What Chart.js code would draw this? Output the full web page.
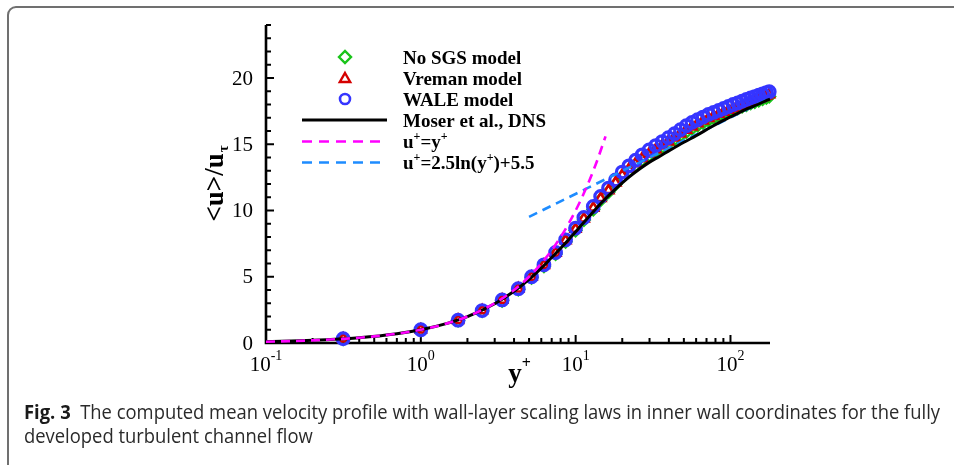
<!DOCTYPE html>
<html>
<head>
<meta charset="utf-8">
<script src="https://cdn.jsdelivr.net/npm/chart.js"></script>
<style>
  html, body { margin: 0; padding: 0; background: #fff; }
  body { width: 954px; height: 465px; overflow: hidden; position: relative; }
  #frame { position: absolute; left: 7px; top: 6px; width: 2000px; height: 2000px;
           border: 2px solid #707070; border-radius: 9px; box-sizing: border-box; }
  #plot { position: absolute; left: 0; top: 0; }
  .ln { position: absolute; left: 24px; font: 20px/24px "Open Sans", sans-serif;
        color: #2a2a2a; white-space: nowrap; transform-origin: 0 0; }
  .ln b { color: #1a1a1a; }
  #l1 { top: 400px; }
  #l2 { top: 424px; }
</style>
</head>
<body>
<div id="frame"></div>
<canvas id="plot" width="954" height="465"></canvas>
<div class="ln" id="l1"><b>Fig. 3</b>&nbsp; The computed mean velocity profile with wall-layer scaling laws in inner wall coordinates for the fully</div>
<div class="ln" id="l2">developed turbulent channel flow</div>
<script>
// LES grid points (y+) shared by the three SGS cases
const LES_Y = [0.315, 1.0, 1.74, 2.49, 3.35, 4.26, 5.19, 6.24, 7.42, 8.61, 9.98, 11.3, 13.0, 14.5, 16.3,
  18.1, 20.0, 22.1, 24.4, 26.9, 29.8, 32.9, 36.2, 39.7, 43.5, 47.5, 51.8, 56.4, 61.3, 66.5, 72.0,
  77.8, 83.9, 90.3, 97.0, 104, 111.3, 118.9, 126.8, 135, 143.5, 152.3, 161.3, 170.5, 178];
const NOSGS_U = [0.31, 0.99, 1.7, 2.42, 3.2, 4.04, 4.92, 5.8, 6.72, 7.65, 8.5, 9.28, 10.08, 10.8, 11.4,
  11.98, 12.55, 13.0, 13.42, 13.8, 14.15, 14.47, 14.77, 15.07, 15.37, 15.66, 15.93, 16.18, 16.42, 16.62, 16.82,
  16.98, 17.14, 17.3, 17.45, 17.59, 17.72, 17.85, 17.97, 18.09, 18.2, 18.31, 18.42, 18.52, 18.6];
const VREMAN_U = [0.32, 1.0, 1.72, 2.45, 3.25, 4.1, 4.98, 5.88, 6.8, 7.74, 8.6, 9.38, 10.2, 10.92, 11.52,
  12.1, 12.68, 13.13, 13.55, 13.93, 14.28, 14.6, 14.9, 15.2, 15.5, 15.8, 16.08, 16.33, 16.57, 16.77, 16.97,
  17.12, 17.28, 17.43, 17.58, 17.72, 17.85, 17.98, 18.1, 18.22, 18.33, 18.44, 18.55, 18.66, 18.75];
const WALE_U = [0.32, 1.0, 1.72, 2.45, 3.25, 4.1, 5.0, 5.9, 6.83, 7.79, 8.67, 9.47, 10.3, 11.06, 11.69,
  12.3, 12.9, 13.37, 13.8, 14.2, 14.57, 14.9, 15.2, 15.5, 15.8, 16.1, 16.4, 16.65, 16.85, 17.05, 17.25,
  17.4, 17.55, 17.7, 17.85, 18.0, 18.12, 18.25, 18.38, 18.5, 18.6, 18.7, 18.8, 18.9, 18.97];

// Moser et al. DNS
const DNS_Y = [0.1, 0.2, 0.4, 0.7, 1, 1.5, 2, 3, 4, 5, 6, 7, 8, 10, 12, 15, 18, 22, 26, 30, 35, 40, 50,
  60, 75, 90, 110, 130, 150, 170, 180];
const DNS_U = [0.1, 0.2, 0.4, 0.7, 1.0, 1.5, 1.99, 2.96, 3.9, 4.8, 5.65, 6.45, 7.15, 8.4, 9.45, 10.7, 11.6,
  12.5, 13.15, 13.65, 14.1, 14.5, 15.15, 15.65, 16.3, 16.8, 17.3, 17.7, 18.0, 18.3, 18.4];

// viscous sublayer u+=y+
const LIN_Y = [0.1, 0.15, 0.2, 0.3, 0.5, 0.7, 1, 1.5, 2, 3, 4, 5, 6, 7, 8, 9, 10, 11, 12, 13, 14, 15.6];
const LIN_U = [0.1, 0.15, 0.2, 0.3, 0.5, 0.7, 1, 1.5, 2, 3, 4, 5, 6, 7, 8, 9, 10, 11, 12, 13, 14, 15.6];

// log law u+=2.5ln(y+)+5.5 (straight on log axis)
const LOG_Y = [5, 180];
const LOG_U = [9.52, 18.48];

// axes
const X_MIN = 0.1, X_MAX = 180;
const Y_MIN = 0, Y_MAX = 24;
const X_DECADES = [-1, 0, 1, 2];
const Y_LABELS = [0, 5, 10, 15, 20];

const SERIF = '"Liberation Serif", "Times New Roman", serif';
const GREEN = '#19c419', RED = '#d50000', BLUE = '#3535ff', MAGENTA = '#ff00ff', SKY = '#1e8cff';

const pts = (xs, ys) => xs.map((v, i) => ({ x: v, y: ys[i] }));

// draws text pieces, some of them raised as superscripts
function drawRich(ctx, x, y, parts, size, bold) {
  const w = bold ? 'bold ' : '';
  let cx = x;
  parts.forEach(p => {
    if (p.sup) {
      ctx.font = w + Math.round(size * 0.62) + 'px ' + SERIF;
      ctx.fillText(p.t, cx, y - size * 0.42);
    } else {
      ctx.font = w + size + 'px ' + SERIF;
      ctx.fillText(p.t, cx, y);
    }
    cx += ctx.measureText(p.t).width;
  });
  return cx - x;
}

function marker(ctx, style, x, y, r, color, lw) {
  ctx.save();
  ctx.strokeStyle = color;
  ctx.lineWidth = lw;
  ctx.beginPath();
  if (style === 'rectRot') {
    ctx.moveTo(x - r, y); ctx.lineTo(x, y - r); ctx.lineTo(x + r, y); ctx.lineTo(x, y + r);
    ctx.closePath();
  } else if (style === 'triangle') {
    for (let k = 0; k < 3; k++) {
      const a = k * 2 * Math.PI / 3;
      const px = x + Math.sin(a) * r, py = y - Math.cos(a) * r;
      k ? ctx.lineTo(px, py) : ctx.moveTo(px, py);
    }
    ctx.closePath();
  } else {
    ctx.arc(x, y, r, 0, Math.PI * 2);
  }
  ctx.stroke();
  ctx.restore();
}

const axesPlugin = {
  id: 'axes',
  beforeDatasetsDraw(chart) {
    const { ctx, chartArea: a, scales: { x, y } } = chart;
    ctx.save();
    ctx.strokeStyle = '#000';
    ctx.fillStyle = '#000';

    // y ticks (inward)
    ctx.lineWidth = 2;
    for (let v = Y_MIN; v <= Y_MAX; v++) {
      const py = y.getPixelForValue(v);
      const len = v % 5 === 0 ? 8 : 5;
      ctx.beginPath(); ctx.moveTo(a.left, py); ctx.lineTo(a.left + len, py); ctx.stroke();
    }
    // x ticks (inward)
    X_DECADES.forEach(e => {
      for (let m = 1; m <= 9; m++) {
        const v = m * Math.pow(10, e);
        if (v > X_MAX) break;
        const px = x.getPixelForValue(v);
        const len = m === 1 ? 8 : 5;
        ctx.beginPath(); ctx.moveTo(px, a.bottom); ctx.lineTo(px, a.bottom - len); ctx.stroke();
      }
    });

    // axis lines
    ctx.lineWidth = 2.6;
    ctx.beginPath();
    ctx.moveTo(a.left, a.top);
    ctx.lineTo(a.left, a.bottom);
    ctx.lineTo(a.right, a.bottom);
    ctx.stroke();

    // y tick labels
    ctx.font = '21px ' + SERIF;
    ctx.textAlign = 'right';
    ctx.textBaseline = 'middle';
    Y_LABELS.forEach(v => ctx.fillText(String(v), a.left - 13, y.getPixelForValue(v) + 1));

    // x tick labels 10^n
    ctx.textAlign = 'left';
    ctx.textBaseline = 'alphabetic';
    X_DECADES.forEach(e => {
      const px = x.getPixelForValue(Math.pow(10, e));
      ctx.font = '21px ' + SERIF;
      const w1 = ctx.measureText('10').width;
      ctx.font = '14px ' + SERIF;
      const w2 = ctx.measureText(String(e)).width;
      const sx = px - (w1 + w2) / 2;
      ctx.font = '21px ' + SERIF;
      ctx.fillText('10', sx, a.bottom + 28);
      ctx.font = '14px ' + SERIF;
      ctx.fillText(String(e), sx + w1, a.bottom + 17);
    });

    // x title y+
    ctx.font = 'bold 27px ' + SERIF;
    const cx = (a.left + a.right) / 2;
    const wy = ctx.measureText('y').width;
    ctx.fillText('y', cx - wy / 2 - 3, a.bottom + 39);
    ctx.font = 'bold 16px ' + SERIF;
    ctx.fillText('+', cx + wy / 2 - 3, a.bottom + 25);

    // y title <u>/u_tau
    ctx.save();
    ctx.translate(a.left - 51, (a.top + a.bottom) / 2);
    ctx.rotate(-Math.PI / 2);
    ctx.font = 'bold 27px ' + SERIF;
    const tMain = '<u>/u';
    const wm = ctx.measureText(tMain).width;
    ctx.font = 'bold 15px ' + SERIF;
    const wt = ctx.measureText('τ').width;
    const sx = -(wm + wt) / 2;
    ctx.font = 'bold 27px ' + SERIF;
    ctx.fillText(tMain, sx, 8);
    ctx.font = 'bold 15px ' + SERIF;
    ctx.fillText('τ', sx + wm + 1, 13);
    ctx.restore();

    ctx.restore();
  },
  afterDatasetsDraw(chart) {
    const { ctx } = chart;
    ctx.save();
    ctx.fillStyle = '#000';
    ctx.textAlign = 'left';
    ctx.textBaseline = 'alphabetic';
    const tx = 403, mx = 345, lx0 = 302, lx1 = 387;
    marker(ctx, 'rectRot', mx, 57, 6, GREEN, 2.4);
    marker(ctx, 'triangle', mx, 79, 6, RED, 2.4);
    marker(ctx, 'circle', mx, 99, 5, BLUE, 2.6);
    ctx.lineWidth = 3;
    ctx.strokeStyle = '#000';
    ctx.beginPath(); ctx.moveTo(lx0, 120); ctx.lineTo(lx1, 120); ctx.stroke();
    ctx.lineWidth = 2.6;
    ctx.setLineDash([10, 7]);
    ctx.strokeStyle = MAGENTA;
    ctx.beginPath(); ctx.moveTo(lx0, 141.5); ctx.lineTo(lx1, 141.5); ctx.stroke();
    ctx.strokeStyle = SKY;
    ctx.beginPath(); ctx.moveTo(lx0, 162.5); ctx.lineTo(lx1, 162.5); ctx.stroke();
    ctx.setLineDash([]);
    const S = 19;
    drawRich(ctx, tx, 63.5, [{ t: 'No SGS model' }], S, true);
    drawRich(ctx, tx, 84.5, [{ t: 'Vreman model' }], S, true);
    drawRich(ctx, tx, 105.5, [{ t: 'WALE model' }], S, true);
    drawRich(ctx, tx, 126.5, [{ t: 'Moser et al., DNS' }], S, true);
    drawRich(ctx, tx, 148, [{ t: 'u' }, { t: '+', sup: true }, { t: '=y' }, { t: '+', sup: true }], S, true);
    drawRich(ctx, tx, 169, [{ t: 'u' }, { t: '+', sup: true }, { t: '=2.5ln(y' }, { t: '+', sup: true },
      { t: ')+5.5' }], S, true);
    ctx.restore();
  }
};

new Chart(document.getElementById('plot').getContext('2d'), {
  type: 'scatter',
  data: {
    datasets: [
      { label: 'u+=y+', data: pts(LIN_Y, LIN_U), showLine: true, pointRadius: 0,
        borderColor: MAGENTA, borderWidth: 2.6, borderDash: [9, 6], cubicInterpolationMode: 'monotone', order: 0 },
      { label: 'Moser et al., DNS', data: pts(DNS_Y, DNS_U), showLine: true, pointRadius: 0,
        borderColor: '#000', borderWidth: 3, cubicInterpolationMode: 'monotone', order: 1 },
      { label: 'u+=2.5ln(y+)+5.5', data: pts(LOG_Y, LOG_U), showLine: true, pointRadius: 0,
        borderColor: SKY, borderWidth: 2.6, borderDash: [9, 6], order: 2 },
      { label: 'WALE model', data: pts(LES_Y, WALE_U), pointStyle: 'circle', pointRadius: 5.8,
        pointBorderWidth: 3.2, pointBorderColor: BLUE, pointBackgroundColor: 'rgba(0,0,0,0)', order: 3 },
      { label: 'Vreman model', data: pts(LES_Y, VREMAN_U), pointStyle: 'triangle', pointRadius: 5.5,
        pointBorderWidth: 2.6, pointBorderColor: RED, pointBackgroundColor: 'rgba(0,0,0,0)', order: 4 },
      { label: 'No SGS model', data: pts(LES_Y, NOSGS_U), pointStyle: 'rectRot', pointRadius: 6,
        pointBorderWidth: 2.2, pointBorderColor: GREEN, pointBackgroundColor: 'rgba(0,0,0,0)', order: 5 }
    ]
  },
  options: {
    responsive: false,
    animation: false,
    devicePixelRatio: 1,
    events: [],
    clip: false,
    layout: { padding: { left: 266, right: 184, top: 25, bottom: 122 } },
    plugins: { legend: { display: false }, tooltip: { enabled: false } },
    scales: {
      x: { type: 'logarithmic', min: X_MIN, max: X_MAX, display: false },
      y: { type: 'linear', min: Y_MIN, max: Y_MAX, display: false }
    }
  },
  plugins: [axesPlugin]
});

// squeeze the caption to the width of the original condensed face
function fitCaption() {
  const l1 = document.getElementById('l1'), l2 = document.getElementById('l2');
  l1.style.transform = l2.style.transform = 'none';
  const k = 916 / l1.getBoundingClientRect().width;
  [l1, l2].forEach(el => el.style.transform = 'scaleX(' + k + ')');
}
fitCaption();
if (document.fonts && document.fonts.ready) document.fonts.ready.then(fitCaption);
</script>
</body>
</html>
